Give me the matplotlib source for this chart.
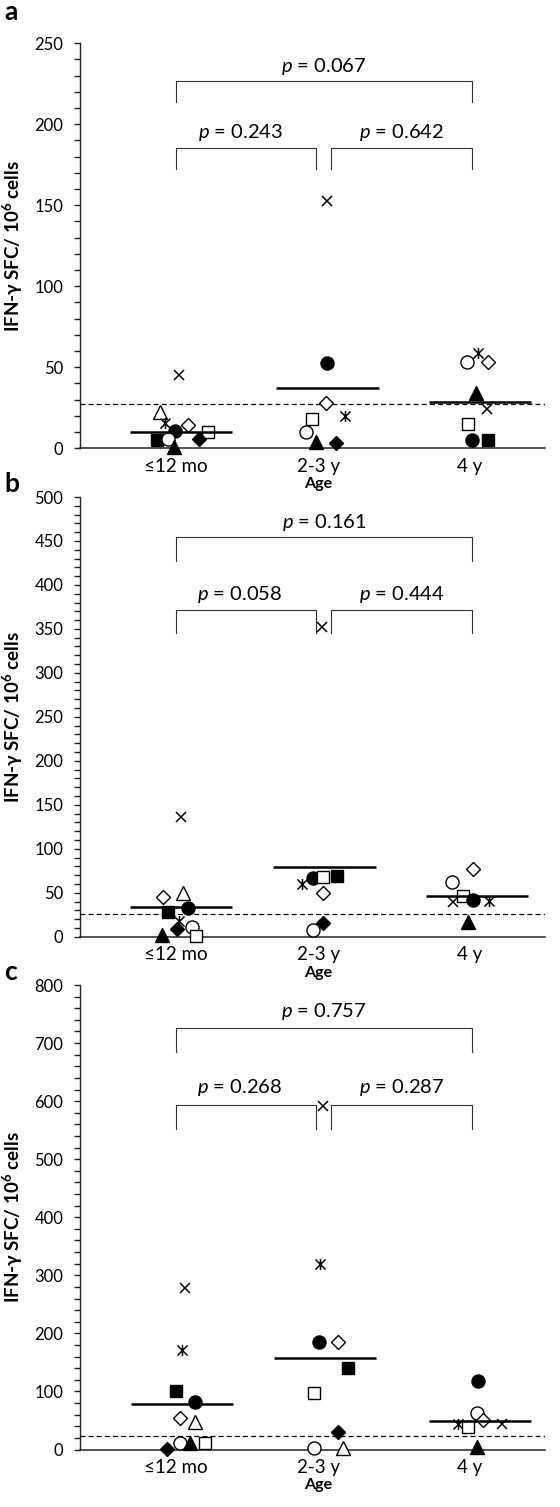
import numpy as np
import matplotlib
matplotlib.use('Agg')
import matplotlib.pyplot as plt
from matplotlib.path import Path

plt.rcParams['font.family'] = ['Lato', 'DejaVu Sans']
plt.rcParams['mathtext.fontset'] = 'custom'
plt.rcParams['mathtext.rm'] = 'Lato'
plt.rcParams['mathtext.it'] = 'Lato:italic'
plt.rcParams['mathtext.bf'] = 'Lato:bold'

categories = ['≤12 mo', '2-3 y', '4 y']
y_label = 'IFN-γ SFC/ 10$^{\\mathbf{6}}$ cells'
x_label = 'Age'
panel_letters = ['a', 'b', 'c']

# ---- panel a ----
a_marker = ['x', 'to', 'ast', 'do', 'cf', 'so', 'sf', 'co', 'df', 'tf',
            'x', 'cf', 'do', 'so', 'ast', 'co', 'tf', 'df',
            'co', 'ast', 'do', 'tf', 'x', 'so', 'cf', 'sf']
a_xpos = [0.989, 0.858, 0.892, 1.049, 0.959, 1.180, 0.836, 0.914, 1.122, 0.953,
          1.984, 1.984, 1.980, 1.887, 2.108, 1.845, 1.912, 2.047,
          2.934, 3.009, 3.072, 2.993, 3.066, 2.941, 2.964, 3.072]
a_value = [45.2, 22.2, 15.4, 14.4, 10.9, 10.3, 5.1, 5.5, 5.5, 0.5,
           152.8, 52.8, 27.8, 18.3, 19.9, 9.9, 4.1, 3.1,
           53.1, 58.6, 53.1, 34.3, 24.3, 14.8, 5.1, 5.1]
a_center = [1.0, 1.99, 3.02]
a_mean = [9.9, 37.4, 28.8]
a_cutoff = 27.5
a_ymax, a_ystep = 250, 50
a_pvals = ['0.067', '0.243', '0.642']

# ---- panel b ----
b_marker = ['x', 'do', 'to', 'sf', 'cf', 'ast', 'df', 'co', 'tf', 'so',
            'x', 'cf', 'so', 'sf', 'ast', 'do', 'df', 'co',
            'do', 'co', 'so', 'x', 'cf', 'ast', 'tf']
b_xpos = [1.000, 0.876, 1.016, 0.910, 1.045, 0.986, 0.975, 1.072, 0.870, 1.099,
          1.953, 1.894, 1.957, 2.052, 1.816, 1.957, 1.957, 1.894,
          2.972, 2.829, 2.907, 2.836, 2.975, 3.083, 2.941]
b_value = [136.5, 45.5, 50.0, 28.4, 33.0, 17.9, 8.4, 10.7, 2.0, 0.5,
           352.0, 67.1, 67.6, 69.0, 59.6, 50.0, 15.9, 7.6,
           76.7, 62.6, 46.3, 39.8, 41.8, 40.6, 17.1]
b_center = [1.0, 1.97, 3.0]
b_mean = [34.1, 79.6, 46.3]
b_cutoff = 26.0
b_ymax, b_ystep = 500, 50
b_pvals = ['0.161', '0.058', '0.444']

# ---- panel c ----
c_marker = ['x', 'ast', 'sf', 'cf', 'do', 'to', 'co', 'tf', 'so', 'df',
            'x', 'ast', 'cf', 'do', 'sf', 'so', 'df', 'co', 'to',
            'cf', 'co', 'do', 'ast', 'so', 'x', 'tf']
c_xpos = [1.027, 1.005, 0.966, 1.095, 0.993, 1.095, 0.993, 1.061, 1.162, 0.903,
          1.960, 1.939, 1.934, 2.063, 2.130, 1.900, 2.063, 1.900, 2.093,
          3.009, 2.998, 3.039, 2.869, 2.936, 3.167, 2.998]
c_value = [277.6, 171.4, 101.3, 82.3, 54.8, 47.9, 11.7, 11.7, 11.7, 0.5,
           592.0, 319.0, 184.6, 184.6, 139.8, 96.8, 30.7, 2.0, 2.0,
           118.5, 63.4, 50.8, 43.9, 38.2, 43.9, 4.8]
c_center = [1.005, 1.975, 3.02]
c_mean = [77.8, 157.0, 49.6]
c_cutoff = 22.5
c_ymax, c_ystep = 800, 100
c_pvals = ['0.757', '0.268', '0.287']

# ---------------------------------------------------------------
ast_path = Path([(-0.5, -0.5), (0.5, 0.5), (-0.5, 0.5), (0.5, -0.5), (0, -0.55), (0, 0.55)],
                [Path.MOVETO, Path.LINETO, Path.MOVETO, Path.LINETO, Path.MOVETO, Path.LINETO])

styles = {
    'x':   dict(marker='x', ms=7.2, mew=1.1, color='black'),
    'ast': dict(marker=ast_path, ms=8.0, mew=1.1, color='black'),
    'to':  dict(marker='^', ms=9.6, mew=1.0, mfc='white', mec='black'),
    'tf':  dict(marker='^', ms=9.6, mew=1.0, mfc='black', mec='black'),
    'co':  dict(marker='o', ms=9.4, mew=1.0, mfc='white', mec='black'),
    'cf':  dict(marker='o', ms=9.4, mew=1.0, mfc='black', mec='black'),
    'so':  dict(marker='s', ms=8.2, mew=1.0, mfc='white', mec='black'),
    'sf':  dict(marker='s', ms=8.2, mew=1.0, mfc='black', mec='black'),
    'do':  dict(marker='D', ms=6.9, mew=1.0, mfc='white', mec='black'),
    'df':  dict(marker='D', ms=6.9, mew=1.0, mfc='black', mec='black'),
}

W, H = 560, 1507
fig = plt.figure(figsize=(W / 100, H / 100), dpi=100)

# axes boxes in pixels: (top, bottom)
boxes = [(43.3, 448.3), (497.0, 936.7), (985.0, 1449.5)]
letter_y = [12, 484, 972]
left_px, right_px = 80, 545
xlim = (0.318, 3.459)
tick_pos = [0.966, 1.926, 2.953]
br_l, br_m1, br_m2, br_r = 0.966, 1.912, 2.014, 2.966

panels = [
    (a_marker, a_xpos, a_value, a_center, a_mean, a_cutoff, a_ymax, a_ystep, a_pvals, 10),
    (b_marker, b_xpos, b_value, b_center, b_mean, b_cutoff, b_ymax, b_ystep, b_pvals, 10),
    (c_marker, c_xpos, c_value, c_center, c_mean, c_cutoff, c_ymax, c_ystep, c_pvals, 20),
]

for i, (mk, xs, vals, cen, means, cut, ymax, ystep, pv, minor) in enumerate(panels):
    top, bot = boxes[i]
    ax = fig.add_axes([left_px / W, 1 - bot / H, (right_px - left_px) / W, (bot - top) / H])
    ax.set_xlim(*xlim)
    ax.set_ylim(0, ymax)
    for sp in ['top', 'right']:
        ax.spines[sp].set_visible(False)
    ax.spines['left'].set_linewidth(1.0)
    ax.spines['bottom'].set_linewidth(1.1)
    ax.spines['bottom'].set_color('#222222')
    ax.spines['left'].set_color('#222222')
    ax.set_yticks(np.arange(0, ymax + 1, ystep))
    ax.set_yticks(np.arange(0, ymax + 1, minor), minor=True)
    ax.tick_params(axis='y', which='both', direction='out', length=4, width=1.0,
                   labelsize=12, pad=8, color='#222222')
    ax.set_xticks(tick_pos)
    ax.set_xticklabels(categories)
    ax.tick_params(axis='x', length=0, labelsize=13.5, pad=7)
    ax.axhline(cut, color='black', lw=0.9, ls=(0, (4, 2.5)), zorder=1)

    for m, x, v in zip(mk, xs, vals):
        ax.plot([x], [v], ls='none', zorder=3, clip_on=False, **styles[m])
    for c, mval in zip(cen, means):
        ax.plot([c - 0.345, c + 0.345], [mval, mval], color='black', lw=1.8, zorder=4,
                solid_capstyle='butt')

    # brackets (axes fraction in y)
    tr = ax.get_xaxis_transform()
    yt_top, yb_top = 1 - 0.092, 1 - 0.145
    yt_low, yb_low = 1 - 0.258, 1 - 0.310
    bk = dict(color='#333333', lw=0.8, transform=tr, clip_on=False)
    ax.plot([br_l, br_l, br_r, br_r], [yb_top, yt_top, yt_top, yb_top], **bk)
    ax.plot([br_l, br_l, br_m1, br_m1], [yb_low, yt_low, yt_low, yb_low], **bk)
    ax.plot([br_m2, br_m2, br_r, br_r], [yb_low, yt_low, yt_low, yb_low], **bk)
    ax.text((br_l + br_r) / 2, 1 - 0.057, '$p$ = ' + pv[0], transform=tr,
            ha='center', va='center', fontsize=14.5)
    ax.text((br_l + br_m1) / 2 - 0.04, 1 - 0.221, '$p$ = ' + pv[1], transform=tr,
            ha='center', va='center', fontsize=14.5)
    ax.text((br_m2 + br_r) / 2, 1 - 0.221, '$p$ = ' + pv[2], transform=tr,
            ha='center', va='center', fontsize=14.5)

    # x label (Age) below category labels
    fig.text(318 / W, 1 - (bot + 36) / H, x_label, ha='center', va='center',
             fontsize=11.5, fontweight='bold')
    # y label & panel letter
    fig.text(13 / W, 1 - ((top + bot) / 2) / H, y_label, rotation=90, ha='center',
             va='center', fontsize=13.5, fontweight='bold')
    fig.text(4 / W, 1 - letter_y[i] / H, panel_letters[i], ha='left', va='center',
             fontsize=19, fontweight='bold')

fig.savefig('out.png', dpi=100)
